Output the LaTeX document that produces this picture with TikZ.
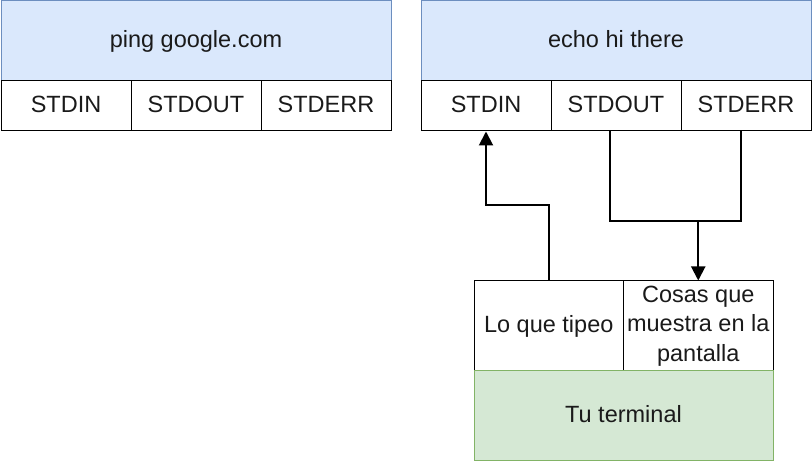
\documentclass[tikz,border=0pt]{standalone}
\usepackage{fontspec}
\setmainfont{Liberation Sans}
\usetikzlibrary{arrows.meta}
\definecolor{procfill}{HTML}{DAE8FC}
\definecolor{procline}{HTML}{6C8EBF}
\definecolor{termfill}{HTML}{D5E8D4}
\definecolor{termline}{HTML}{82B366}
\definecolor{txt}{HTML}{1A1A1A}
\tikzset{
    line/.style={text height=18pt, text depth=4pt},
    proc/.style={line, draw=procline, fill=procfill, line width=1pt, minimum width=390pt, minimum height=80pt, text=txt},
    cell/.style={draw, line width=1pt, minimum width=130pt, minimum height=50pt, inner sep=0pt, text=txt},
    term/.style={line, draw=termline, fill=termfill, line width=1pt, minimum width=299pt, minimum height=90pt, text=txt},
    wire/.style={line width=2pt},
    flow/.style={line width=2pt, -{Triangle[length=14pt,width=14pt]}},
}
\begin{document}
\begin{tikzpicture}[x=1pt, y=-1pt, font=\fontsize{23.5}{29.5}\selectfont]
    \useasboundingbox (0,0) rectangle (812,462);
    % procesos
    \node[proc] (ping) at (196,41) {ping google.com};
    \node[proc] (echo) at (616,41) {echo hi there};
    % flujos de cada proceso
    \foreach \x/\n/\t in {66/in/STDIN, 196/out/STDOUT, 326/err/STDERR} {
        \node[cell, line] (ping\n) at (\x,106) {\t};
        \node[cell, line] (echo\n) at (\x+420,106) {\t};
    }
    % la terminal
    \node[cell, line, minimum width=149.5pt, minimum height=90pt] (tipeo) at (548.75,326) {Lo que tipeo};
    \node[cell, minimum width=149.5pt, minimum height=90pt, align=center] (pantalla) at (698.25,326) {Cosas que\\muestra en la\\pantalla};
    \node[term] (terminal) at (623.5,416) {Tu terminal};
    % lo que tipeo entra por STDIN
    \draw[flow] (tipeo.north) -- ++(0,-75) -| (echoin.south);
    % STDOUT y STDERR salen a la pantalla
    \coordinate (junta) at (pantalla.north |- 0,221);
    \draw[wire] ([xshift=-6pt]echoout.south) |- ([xshift=-5pt]echoerr.south |- junta) -- ([xshift=-5pt]echoerr.south);
    \draw[flow] (junta) -- (pantalla.north);
\end{tikzpicture}
\end{document}
